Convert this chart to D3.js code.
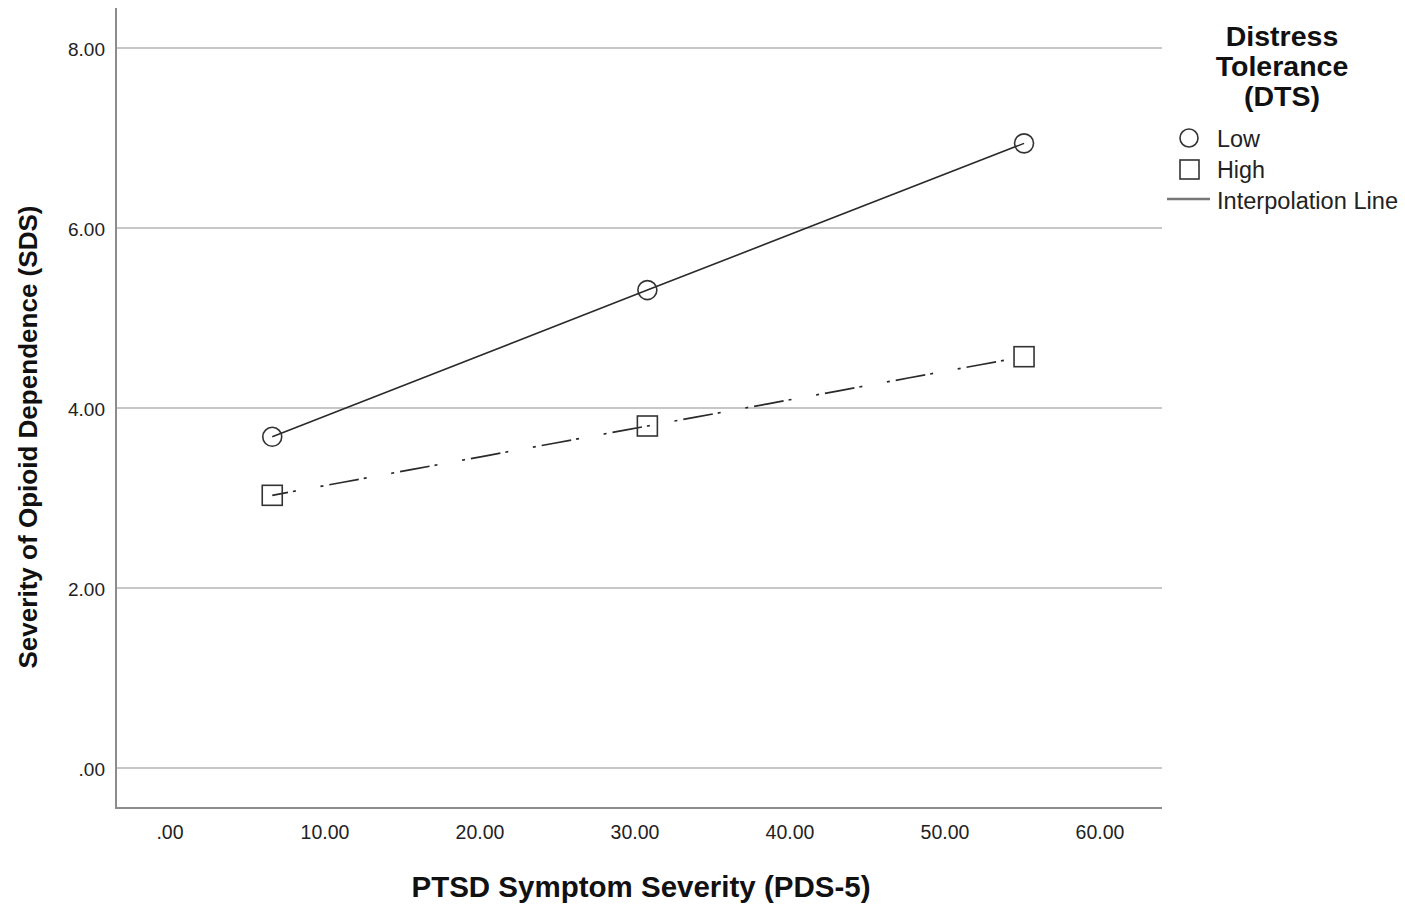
<!DOCTYPE html>
<html>
<head>
<meta charset="utf-8">
<script src="https://cdn.jsdelivr.net/npm/d3@7"></script>
<style>
  body { margin: 0; background: #fff; }
  svg { font-family: "Liberation Sans", Arial, sans-serif; }
</style>
</head>
<body>
<svg id="chart" width="1405" height="905"></svg>
<script>
// data
var groups = ["Low", "High"];
var ptsd = [6.6, 30.8, 55.1];
var lowVals = [3.68, 5.31, 6.94];
var highVals = [3.03, 3.80, 4.57];
var xTicks = [0, 10, 20, 30, 40, 50, 60];
var yTicks = [0, 2, 4, 6, 8];

var svg = d3.select("#chart");

var x = d3.scaleLinear().domain([-3.48, 64.0]).range([116, 1162]);
var y = d3.scaleLinear().domain([-0.444, 8.444]).range([808, 8]);

var fmt = function(d) { return d === 0 ? ".00" : d3.format(".2f")(d); };

// gridlines
svg.append("g").selectAll("line")
    .data(yTicks).enter().append("line")
    .attr("x1", 116).attr("x2", 1162)
    .attr("y1", function(d) { return y(d); })
    .attr("y2", function(d) { return y(d); })
    .attr("stroke", "#b4b4b4").attr("stroke-width", 1.5);

// axes lines
svg.append("line").attr("x1", 116).attr("x2", 116).attr("y1", 8).attr("y2", 808)
    .attr("stroke", "#8c8c8c").attr("stroke-width", 2);
svg.append("line").attr("x1", 115).attr("x2", 1162).attr("y1", 808).attr("y2", 808)
    .attr("stroke", "#8c8c8c").attr("stroke-width", 2);

// tick labels
svg.append("g").selectAll("text")
    .data(yTicks).enter().append("text")
    .attr("x", 105).attr("y", function(d) { return y(d) + 8; })
    .attr("text-anchor", "end").attr("font-size", 19).attr("fill", "#222")
    .text(fmt);

svg.append("g").selectAll("text")
    .data(xTicks).enter().append("text")
    .attr("x", function(d) { return x(d); }).attr("y", 839)
    .attr("text-anchor", "middle").attr("font-size", 19.5).attr("fill", "#222")
    .text(fmt);

// axis titles
svg.append("text")
    .attr("x", 641).attr("y", 897)
    .attr("text-anchor", "middle").attr("font-size", 29.5).attr("font-weight", "bold")
    .attr("fill", "#111")
    .text("PTSD Symptom Severity (PDS-5)");

svg.append("text")
    .attr("transform", "translate(37,437) rotate(-90)")
    .attr("text-anchor", "middle").attr("font-size", 26).attr("font-weight", "bold")
    .attr("fill", "#111")
    .attr("textLength", 463).attr("lengthAdjust", "spacingAndGlyphs")
    .text("Severity of Opioid Dependence (SDS)");

// lines
var line = d3.line()
    .x(function(d) { return x(d[0]); })
    .y(function(d) { return y(d[1]); });

var lowPts = ptsd.map(function(p, i) { return [p, lowVals[i]]; });
var highPts = ptsd.map(function(p, i) { return [p, highVals[i]]; });

svg.append("path").datum(lowPts).attr("d", line)
    .attr("fill", "none").attr("stroke", "#2a2a2a").attr("stroke-width", 1.6);
svg.append("path").datum(highPts).attr("d", line)
    .attr("fill", "none").attr("stroke", "#2a2a2a").attr("stroke-width", 1.7)
    .attr("stroke-dasharray", "16,5,3,25,3,6,14,0");

// markers
svg.append("g").selectAll("circle")
    .data(lowPts).enter().append("circle")
    .attr("cx", function(d) { return x(d[0]); })
    .attr("cy", function(d) { return y(d[1]); })
    .attr("r", 9.5)
    .attr("fill", "none").attr("stroke", "#333").attr("stroke-width", 1.6);

svg.append("g").selectAll("rect")
    .data(highPts).enter().append("rect")
    .attr("x", function(d) { return x(d[0]) - 10; })
    .attr("y", function(d) { return y(d[1]) - 10; })
    .attr("width", 20).attr("height", 20)
    .attr("fill", "none").attr("stroke", "#333").attr("stroke-width", 1.6);

// legend
var leg = svg.append("g");
["Distress", "Tolerance", "(DTS)"].forEach(function(t, i) {
  leg.append("text").attr("x", 1282).attr("y", 46 + i * 30)
      .attr("text-anchor", "middle").attr("font-size", 28.5).attr("font-weight", "bold")
      .attr("fill", "#111").text(t);
});

leg.append("circle").attr("cx", 1189).attr("cy", 138).attr("r", 9)
    .attr("fill", "none").attr("stroke", "#333").attr("stroke-width", 1.6);
leg.append("rect").attr("x", 1180).attr("y", 160).attr("width", 19).attr("height", 19)
    .attr("fill", "none").attr("stroke", "#333").attr("stroke-width", 1.6);
leg.append("line").attr("x1", 1167).attr("x2", 1210).attr("y1", 199).attr("y2", 199)
    .attr("stroke", "#777").attr("stroke-width", 2.5);

var legLabels = groups.concat(["Interpolation Line"]);
leg.selectAll("text.item")
    .data(legLabels).enter().append("text")
    .attr("class", "item")
    .attr("x", 1217).attr("y", function(d, i) { return 147 + i * 31; })
    .attr("font-size", 23).attr("fill", "#222")
    .attr("textLength", function(d, i) { return [43, 48, 181][i]; })
    .attr("lengthAdjust", "spacingAndGlyphs")
    .text(function(d) { return d; });
</script>
</body>
</html>
